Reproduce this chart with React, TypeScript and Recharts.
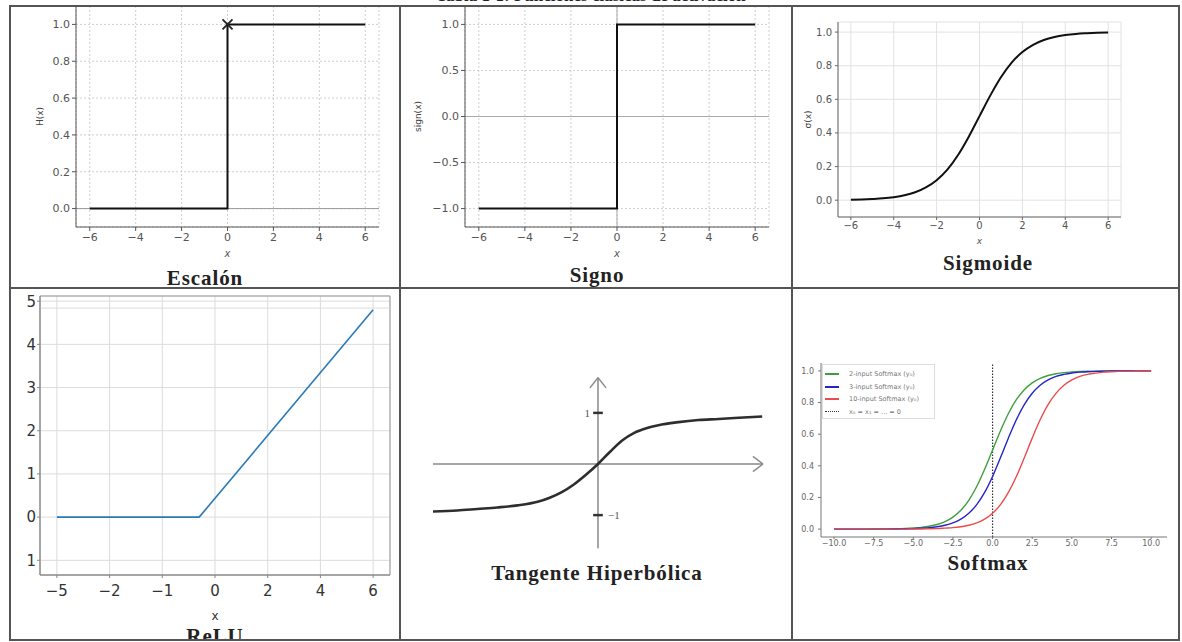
import {
  CartesianGrid,
  ComposedChart,
  Line,
  ReferenceArea,
  ReferenceDot,
  ReferenceLine,
  Scatter,
  XAxis,
  YAxis,
} from "recharts";

// Step / sign panels
const STEP_X = [-6, 0, 0, 6];
const STEP_Y = [0, 0, 1, 1];
const SIGN_Y = [-1, -1, 1, 1];
const STEP_TICKS_X = [-6, -4, -2, 0, 2, 4, 6];

// Sigmoid panel
const SIG_X = [-6, -5.5, -5, -4.5, -4, -3.5, -3, -2.5, -2, -1.5, -1, -0.5, 0, 0.5, 1, 1.5, 2, 2.5, 3, 3.5, 4, 4.5, 5, 5.5, 6];
const SIG_Y = [0.002, 0.004, 0.007, 0.011, 0.018, 0.029, 0.047, 0.076, 0.119, 0.182, 0.269, 0.378, 0.5, 0.622, 0.731, 0.818, 0.881, 0.924, 0.953, 0.971, 0.982, 0.989, 0.993, 0.996, 0.998];

// ReLU panel: evenly spaced ticks with the labels as printed
const RELU_TICK_LABELS = ["−5", "−2", "−1", "0", "2", "4", "6"];
const RELU_POS = [0, 2.7, 6];
const RELU_Y = [0, 0, 4.8];

// Tanh sketch (no ticks on its x axis)
const TANH_X = [-4.1, -3.5, -3, -2.5, -2, -1.5, -1.2, -0.9, -0.6, -0.3, 0, 0.3, 0.6, 0.9, 1.2, 1.5, 2, 2.5, 3, 3.5, 4.08];
const TANH_Y = [-0.93, -0.91, -0.88, -0.85, -0.81, -0.74, -0.66, -0.55, -0.4, -0.21, 0, 0.24, 0.46, 0.61, 0.7, 0.76, 0.82, 0.86, 0.88, 0.905, 0.93];

// Softmax panel
const SM_X = [-10, -9, -8, -7, -6, -5.5, -5, -4.5, -4, -3.5, -3, -2.5, -2, -1.5, -1, -0.5, 0, 0.5, 1, 1.5, 2, 2.5, 3, 3.5, 4, 4.5, 5, 5.5, 6, 6.5, 7, 7.5, 8, 9, 10];
const SM_2 = [0, 0, 0, 0.001, 0.002, 0.004, 0.007, 0.011, 0.018, 0.029, 0.047, 0.076, 0.119, 0.182, 0.269, 0.378, 0.5, 0.622, 0.731, 0.818, 0.881, 0.924, 0.953, 0.971, 0.982, 0.989, 0.993, 0.996, 0.998, 0.998, 0.999, 0.999, 1, 1, 1];
const SM_3 = [0, 0, 0, 0, 0.001, 0.002, 0.003, 0.006, 0.009, 0.015, 0.024, 0.039, 0.063, 0.1, 0.155, 0.232, 0.333, 0.452, 0.576, 0.691, 0.787, 0.859, 0.909, 0.943, 0.965, 0.978, 0.987, 0.992, 0.995, 0.997, 0.998, 0.999, 0.999, 1, 1];
const SM_10 = [0, 0, 0, 0, 0, 0, 0.001, 0.001, 0.002, 0.003, 0.006, 0.009, 0.015, 0.024, 0.039, 0.063, 0.1, 0.155, 0.232, 0.332, 0.451, 0.575, 0.691, 0.787, 0.858, 0.909, 0.943, 0.965, 0.978, 0.986, 0.992, 0.995, 0.997, 0.999, 1];
const SM_TICKS_X = [-10, -7.5, -5, -2.5, 0, 2.5, 5, 7.5, 10];
const SM_NAMES = ["2-input Softmax (y₀)", "3-input Softmax (y₀)", "10-input Softmax (y₀)", "x₀ = x₁ = ... = 0"];
const SM_COLORS = ["#3f9f3f", "#2424c8", "#e84c4c", "#333"];

const CAPTION = "Tabla 1-1: Funciones clásicas de activación";
const TITLES = ["Escalón", "Signo", "Sigmoide", "ReLU", "Tangente Hiperbólica", "Softmax"];

const stepData = STEP_X.map((x, i) => ({ x, y: STEP_Y[i] }));
const signData = STEP_X.map((x, i) => ({ x, y: SIGN_Y[i] }));
const sigData = SIG_X.map((x, i) => ({ x, y: SIG_Y[i] }));
const reluData = RELU_POS.map((x, i) => ({ x, y: RELU_Y[i] }));
const tanhData = TANH_X.map((x, i) => ({ x, y: TANH_Y[i] }));
const smData = SM_X.map((x, i) => ({ x, y2: SM_2[i], y3: SM_3[i], y10: SM_10[i] }));

const SANS = "DejaVu Sans, sans-serif";
const SERIF = "Liberation Serif, Times New Roman, serif";
const minus = (s: string) => s.replace("-", "\u2212");
const fmt1 = (v: number) => minus(v.toFixed(1));
const fmt0 = (v: number) => minus(String(v));
const tick = (size: number, fill = "#555") => ({ fontFamily: SANS, fontSize: size, fill });

const XMark = (p: any) => (
  <path
    d={`M${p.cx - 5},${p.cy - 5}L${p.cx + 5},${p.cy + 5}M${p.cx - 5},${p.cy + 5}L${p.cx + 5},${p.cy - 5}`}
    stroke="#222"
    strokeWidth={1.8}
  />
);

function Cell({ left, top, width, height, children }: any) {
  return (
    <div style={{ position: "absolute", left, top, width, height, overflow: "hidden" }}>{children}</div>
  );
}

function Title({ text, cx, top }: { text: string; cx: number; top: number }) {
  return (
    <div
      style={{
        position: "absolute",
        left: cx - 150,
        width: 300,
        top,
        height: 24,
        lineHeight: "24px",
        textAlign: "center",
        fontFamily: SERIF,
        fontWeight: 700,
        fontSize: 21,
        letterSpacing: 0.9,
        color: "#222",
      }}
    >
      {text}
    </div>
  );
}

function Escalon() {
  return (
    <Cell left={10} top={6} width={390} height={282}>
      <ComposedChart width={390} height={282} data={stepData} margin={{ top: 0, right: 21, left: 14, bottom: 29 }}>
        <CartesianGrid stroke="#cfcfcf" strokeDasharray="2 2" />
        <XAxis type="number" dataKey="x" domain={[-6.6, 6.6]} ticks={STEP_TICKS_X} tickFormatter={fmt0} allowDataOverflow
          tick={tick(11)} tickSize={4} tickMargin={2} stroke="#555" height={32}
          label={{ value: "x", position: "insideBottom", offset: 2, fontSize: 10, fill: "#555", fontStyle: "italic", fontFamily: SANS }} />
        <YAxis type="number" domain={[-0.1, 1.1]} ticks={[0, 0.2, 0.4, 0.6, 0.8, 1]} tickFormatter={fmt1} allowDataOverflow
          tick={tick(11)} tickSize={4} tickMargin={2} stroke="#555" width={52}
          label={{ value: "H(x)", angle: -90, position: "insideLeft", offset: 16, fontSize: 9, fill: "#444", fontFamily: SANS, style: { textAnchor: "middle" } }} />
        <ReferenceLine y={0} stroke="#999" />
        <Line dataKey="y" type="linear" stroke="#111" strokeWidth={2} dot={false} isAnimationActive={false} />
        <Scatter data={[{ x: 0, y: 1 }]} dataKey="y" shape={XMark} isAnimationActive={false} />
      </ComposedChart>
      <Title text={TITLES[0]} cx={195} top={260} />
    </Cell>
  );
}

function Signo() {
  return (
    <Cell left={400} top={6} width={392} height={282}>
      <ComposedChart width={392} height={282} data={signData} margin={{ top: 0, right: 23, left: 13, bottom: 29 }}>
        <CartesianGrid stroke="#cfcfcf" strokeDasharray="2 2" />
        <XAxis type="number" dataKey="x" domain={[-6.6, 6.6]} ticks={STEP_TICKS_X} tickFormatter={fmt0} allowDataOverflow
          tick={tick(11)} tickSize={4} tickMargin={2} stroke="#555" height={32}
          label={{ value: "x", position: "insideBottom", offset: 2, fontSize: 10, fill: "#555", fontStyle: "italic", fontFamily: SANS }} />
        <YAxis type="number" domain={[-1.2, 1.2]} ticks={[-1, -0.5, 0, 0.5, 1]} tickFormatter={fmt1} allowDataOverflow
          tick={tick(11)} tickSize={4} tickMargin={2} stroke="#555" width={52}
          label={{ value: "sign(x)", angle: -90, position: "insideLeft", offset: 5, fontSize: 9, fill: "#444", fontFamily: SANS, style: { textAnchor: "middle" } }} />
        <ReferenceLine y={0} stroke="#aaa" />
        <ReferenceLine x={0} stroke="#aaa" />
        <Line dataKey="y" type="linear" stroke="#111" strokeWidth={2} dot={false} isAnimationActive={false} />
      </ComposedChart>
      <Title text={TITLES[1]} cx={197} top={257} />
    </Cell>
  );
}

function Sigmoide() {
  return (
    <Cell left={792} top={6} width={387} height={282}>
      <ComposedChart width={387} height={282} data={sigData} margin={{ top: 16, right: 58, left: 8, bottom: 41 }}>
        <CartesianGrid stroke="#e2e2e2" />
        <XAxis type="number" dataKey="x" domain={[-6.6, 6.6]} ticks={STEP_TICKS_X} tickFormatter={fmt0} allowDataOverflow
          tick={tick(10)} tickSize={3} tickMargin={2} stroke="#666" height={30}
          label={{ value: "x", position: "insideBottom", offset: 3, fontSize: 9, fill: "#555", fontStyle: "italic", fontFamily: SANS }} />
        <YAxis type="number" domain={[-0.1, 1.06]} ticks={[0, 0.2, 0.4, 0.6, 0.8, 1]} tickFormatter={fmt1} allowDataOverflow
          tick={tick(10)} tickSize={3} tickMargin={3} stroke="#666" width={38}
          label={{ value: "σ(x)", angle: -90, position: "insideLeft", offset: 8, fontSize: 9, fill: "#444", fontFamily: SANS, style: { textAnchor: "middle" } }} />
        <Line dataKey="y" type="monotone" stroke="#111" strokeWidth={2} dot={false} isAnimationActive={false} />
      </ComposedChart>
      <Title text={TITLES[2]} cx={196} top={245} />
    </Cell>
  );
}

function Relu() {
  return (
    <Cell left={10} top={288} width={390} height={352}>
      <ComposedChart width={390} height={352} data={reluData} margin={{ top: 8, right: 10, left: 8, bottom: 17 }}>
        <CartesianGrid stroke="#dcdcdc" />
        <XAxis type="number" dataKey="x" domain={[-0.32, 6.32]} ticks={[0, 1, 2, 3, 4, 5, 6]} allowDataOverflow
          tickFormatter={(v: number) => RELU_TICK_LABELS[v] ?? ""}
          tick={tick(15, "#333")} tickSize={3} tickMargin={7} stroke="#888" height={48}
          label={{ value: "x", position: "insideBottom", offset: 3, fontSize: 12, fill: "#333", fontFamily: SANS }} />
        <YAxis type="number" domain={[-1.34, 5.12]} ticks={[-1, 0, 1, 2, 3, 4, 5]} allowDataOverflow
          tickFormatter={(v: number) => (v === -1 ? "1" : String(v))}
          tick={tick(15, "#333")} tickSize={3} tickMargin={1} stroke="#888" width={22} />
        <ReferenceLine y={4.84} stroke="#dcdcdc" />
        <ReferenceArea x1={-0.32} x2={6.32} y1={-1.34} y2={5.12} fill="none" stroke="#999" ifOverflow="visible" />
        <Line dataKey="y" type="linear" stroke="#2a7ab8" strokeWidth={1.6} dot={false} isAnimationActive={false} />
      </ComposedChart>
      <Title text={TITLES[3]} cx={205} top={336} />
    </Cell>
  );
}

const AX = "#8a8a8a";
function Tanh() {
  const lbl = { fontFamily: SERIF, fontSize: 11, fill: "#555" };
  return (
    <Cell left={400} top={288} width={392} height={352}>
      <ComposedChart width={392} height={352} data={tanhData} margin={{ top: 84, right: 29, left: 33, bottom: 84 }}>
        <XAxis type="number" dataKey="x" domain={[-4.1, 4.1]} hide allowDataOverflow />
        <YAxis type="number" domain={[-1.8, 1.8]} hide allowDataOverflow width={0} />
        <ReferenceLine segment={[{ x: -4.1, y: 0 }, { x: 4.1, y: 0 }]} stroke={AX} strokeWidth={1.5} ifOverflow="visible" />
        <ReferenceLine segment={[{ x: 3.85, y: 0.15 }, { x: 4.1, y: 0 }]} stroke={AX} strokeWidth={1.5} ifOverflow="visible" />
        <ReferenceLine segment={[{ x: 3.85, y: -0.15 }, { x: 4.1, y: 0 }]} stroke={AX} strokeWidth={1.5} ifOverflow="visible" />
        <ReferenceLine segment={[{ x: 0, y: -1.65 }, { x: 0, y: 1.69 }]} stroke={AX} strokeWidth={1.5} ifOverflow="visible" />
        <ReferenceLine segment={[{ x: -0.2, y: 1.49 }, { x: 0, y: 1.69 }]} stroke={AX} strokeWidth={1.5} ifOverflow="visible" />
        <ReferenceLine segment={[{ x: 0.2, y: 1.49 }, { x: 0, y: 1.69 }]} stroke={AX} strokeWidth={1.5} ifOverflow="visible" />
        <ReferenceLine segment={[{ x: -0.12, y: 1 }, { x: 0.12, y: 1 }]} stroke="#333" strokeWidth={2.5} ifOverflow="visible" />
        <ReferenceLine segment={[{ x: -0.12, y: -1 }, { x: 0.12, y: -1 }]} stroke="#333" strokeWidth={2.5} ifOverflow="visible" />
        <ReferenceDot x={0} y={1} r={0} stroke="none" fill="none" label={{ value: "1", position: "left", offset: 8, ...lbl }} />
        <ReferenceDot x={0} y={-1} r={0} stroke="none" fill="none" label={{ value: "−1", position: "right", offset: 10, ...lbl }} />
        <Line dataKey="y" type="monotone" stroke="#2e2e2e" strokeWidth={2.6} dot={false} isAnimationActive={false} />
      </ComposedChart>
      <Title text={TITLES[4]} cx={197} top={273} />
    </Cell>
  );
}

function Softmax() {
  return (
    <Cell left={792} top={288} width={387} height={352}>
      <ComposedChart width={387} height={352} data={smData} margin={{ top: 75, right: 12, left: 7, bottom: 83 }}>
        <XAxis type="number" dataKey="x" domain={[-10.82, 11]} ticks={SM_TICKS_X} tickFormatter={fmt1} allowDataOverflow
          tick={tick(8, "#666")} tickSize={2} tickMargin={1} stroke="#777" height={20} />
        <YAxis type="number" domain={[-0.05, 1.05]} ticks={[0, 0.2, 0.4, 0.6, 0.8, 1]} tickFormatter={fmt1} allowDataOverflow
          tick={tick(8, "#666")} tickSize={3} tickMargin={4} stroke="#777" width={22} />
        <ReferenceLine x={0} stroke="#333" strokeDasharray="1.5 1.5" strokeWidth={1.2} />
        <Line dataKey="y2" type="monotone" stroke={SM_COLORS[0]} strokeWidth={1.4} dot={false} isAnimationActive={false} />
        <Line dataKey="y3" type="monotone" stroke={SM_COLORS[1]} strokeWidth={1.4} dot={false} isAnimationActive={false} />
        <Line dataKey="y10" type="monotone" stroke={SM_COLORS[2]} strokeWidth={1.4} dot={false} isAnimationActive={false} />
      </ComposedChart>
      <div
        style={{
          position: "absolute", left: 30, top: 76, width: 113, height: 55, border: "1px solid #ddd",
          background: "rgba(255,255,255,0.9)", fontFamily: SANS, fontSize: 6.5, color: "#777", boxSizing: "border-box",
          padding: "3px 0 0 2px",
        }}
      >
        {SM_NAMES.map((n, i) => (
          <div key={n} style={{ display: "flex", alignItems: "center", height: 12.5 }}>
            <div style={{ width: 14, marginRight: 10, borderTop: i === 3 ? `1px dotted ${SM_COLORS[i]}` : `2px solid ${SM_COLORS[i]}` }} />
            <span>{n}</span>
          </div>
        ))}
      </div>
      <Title text={TITLES[5]} cx={196} top={263} />
    </Cell>
  );
}

const BORDER = "#555";
const line = (left: number, top: number, width: number, height: number) => (
  <div key={`${left}-${top}-${width}`} style={{ position: "absolute", left, top, width, height, background: BORDER }} />
);

export default function App() {
  return (
    <div style={{ position: "fixed", left: 0, top: 0, width: 1182, height: 642, background: "#fff", overflow: "hidden" }}>
      <div
        style={{
          position: "absolute", left: 0, top: -13, width: 1182, textAlign: "center", fontFamily: SERIF,
          fontWeight: 700, fontSize: 17, lineHeight: "18px", color: "#222",
        }}
      >
        {CAPTION}
      </div>
      <Escalon />
      <Signo />
      <Sigmoide />
      <Relu />
      <Tanh />
      <Softmax />
      {line(9, 5, 1171, 2)}
      {line(9, 287, 1171, 2)}
      {line(9, 639, 1171, 2)}
      {line(9, 5, 2, 636)}
      {line(399, 5, 2, 636)}
      {line(791, 5, 2, 636)}
      {line(1178, 5, 2, 636)}
    </div>
  );
}
